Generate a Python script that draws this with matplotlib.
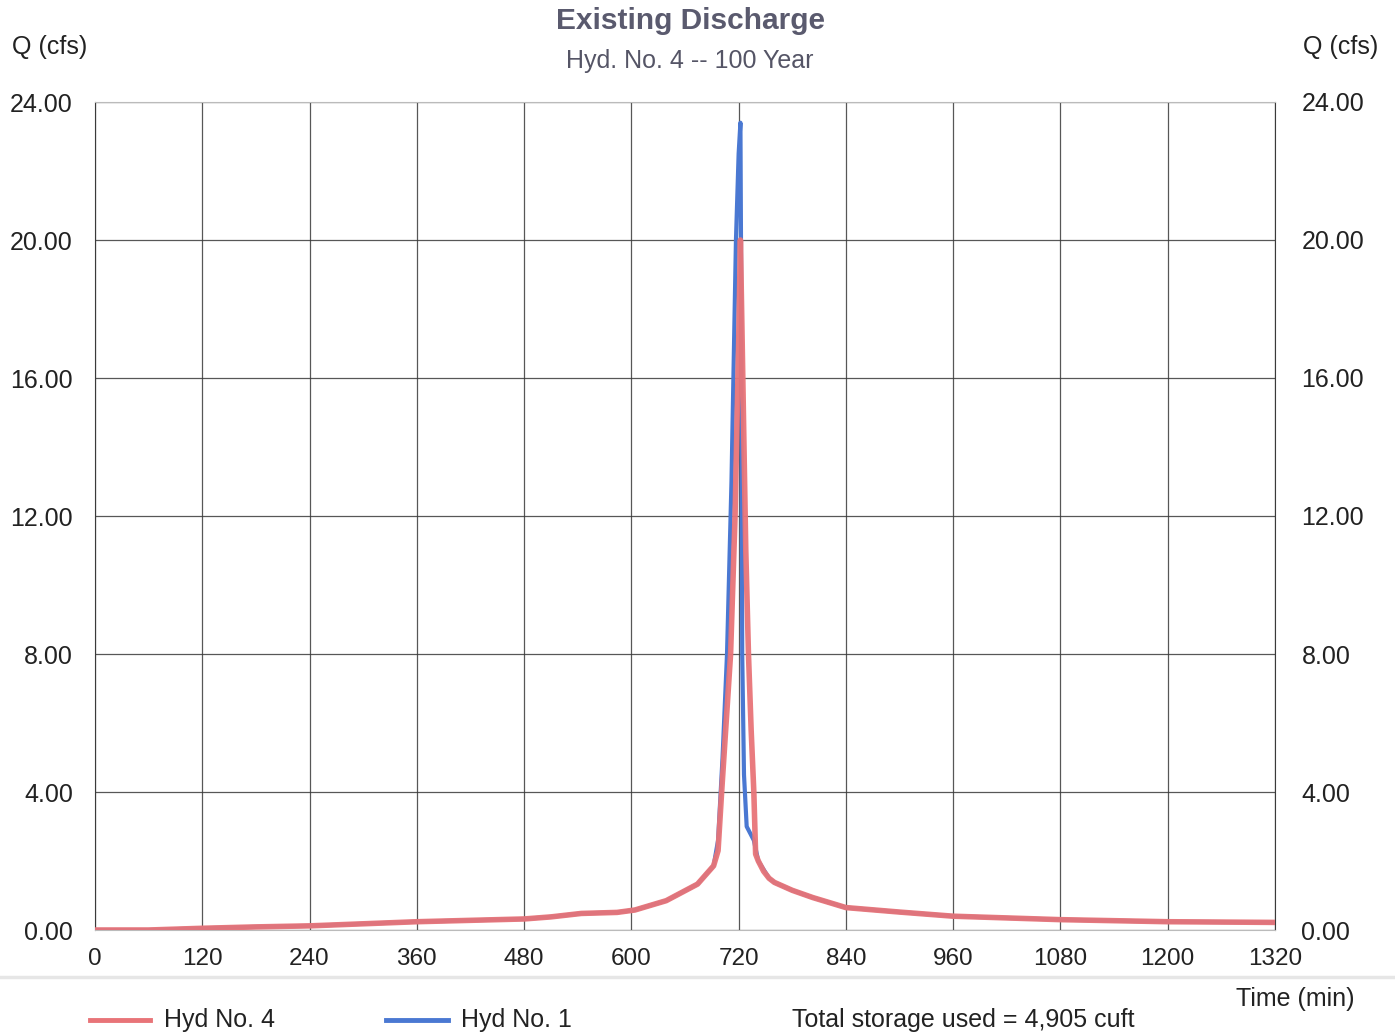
import matplotlib
matplotlib.use("Agg")
import matplotlib.pyplot as plt
from matplotlib.lines import Line2D

plt.rcParams['font.family'] = ['Liberation Sans', 'DejaVu Sans']

# Hyd No. 4 (red)
t4 = [0, 60, 120, 180, 240, 300, 360, 420, 480, 510, 544, 584, 604, 639, 674, 692, 697,
      701, 706, 711, 716, 720, 722, 725, 728, 731, 734, 737, 739, 742, 748, 754, 760,
      780, 803, 840, 900, 960, 1020, 1080, 1140, 1200, 1260, 1320]
q4 = [0.00, 0.00, 0.05, 0.09, 0.12, 0.18, 0.24, 0.28, 0.32, 0.38, 0.48, 0.51, 0.58, 0.85, 1.33, 1.86, 2.3,
      4.0, 6.0, 8.0, 12.0, 17.0, 20.0, 15.5, 11.0, 8.0, 5.8, 4.0, 2.2, 2.0, 1.7, 1.5, 1.38,
      1.15, 0.94, 0.65, 0.52, 0.40, 0.35, 0.30, 0.27, 0.24, 0.23, 0.22]

# Hyd No. 1 (blue)
t1 = [0, 60, 120, 180, 240, 300, 360, 420, 480, 510, 544, 584, 604, 639, 674, 692, 697,
      702, 707, 712, 717, 720, 722, 723, 724, 726, 729, 733, 737, 742, 754, 760,
      780, 803, 840, 900, 960, 1020, 1080, 1140, 1200, 1260, 1320]
q1 = [0.00, 0.00, 0.05, 0.09, 0.12, 0.18, 0.24, 0.28, 0.32, 0.38, 0.48, 0.51, 0.58, 0.85, 1.33, 1.86, 2.6,
      5.0, 8.0, 13.0, 20.0, 22.5, 23.4, 18.0, 8.0, 4.5, 3.0, 2.8, 2.6, 2.0, 1.5, 1.38,
      1.15, 0.94, 0.65, 0.52, 0.40, 0.35, 0.30, 0.27, 0.24, 0.23, 0.22]

x_ticks = [0, 120, 240, 360, 480, 600, 720, 840, 960, 1080, 1200, 1320]
y_ticks = [0, 4, 8, 12, 16, 20, 24]

W, H = 1395, 1036
fig = plt.figure(figsize=(W / 100, H / 100), dpi=100)
ax = fig.add_axes([95 / W, 1 - 930 / H, (1275 - 95) / W, (930 - 102) / H])

red = '#e87478'
blue = '#4a78d2'
grid_c = '#3a3a3a'
txt = '#222222'

ax.plot(t1, q1, color=blue, lw=3.0, zorder=3, solid_joinstyle='round')
ax.plot(t4, q4, color=red, lw=4.0, zorder=4, solid_joinstyle='round', alpha=0.95)

ax.set_xlim(0, 1320)
ax.set_ylim(0, 24)
ax.set_xticks(x_ticks)
ax.set_yticks(y_ticks)
ax.set_xticklabels([str(v) for v in x_ticks])
ax.set_yticklabels([f"{v:.2f}" for v in y_ticks])
ax.grid(True, color=grid_c, lw=0.9, alpha=0.85)
ax.set_axisbelow(True)
for s in ax.spines.values():
    s.set_color('#bbbbbb')
    s.set_linewidth(0.8)
ax.spines['left'].set_color(grid_c)
ax.spines['right'].set_color(grid_c)
ax.tick_params(axis='both', length=0, colors=txt)
ax.tick_params(axis='y', pad=16, labelsize=18)
ax.tick_params(axis='x', pad=13, labelsize=17.5)

ax2 = ax.twinx()
ax2.set_ylim(0, 24)
ax2.set_yticks(y_ticks)
ax2.set_yticklabels([f"{v:.2f}" for v in y_ticks])
ax2.tick_params(axis='y', length=0, pad=19, labelsize=18, colors=txt)
for s in ax2.spines.values():
    s.set_visible(False)

fig.text(690 / W, 1 - 21 / H, "Existing Discharge", ha='center', va='center',
         fontsize=21.5, fontweight='bold', color='#5a5a6e')
fig.text(690 / W, 1 - 61 / H, "Hyd. No. 4 -- 100 Year", ha='center', va='center',
         fontsize=18, color='#555566')
fig.text(50 / W, 1 - 47 / H, "Q (cfs)", ha='center', va='center', fontsize=18, color=txt)
fig.text(1341 / W, 1 - 47 / H, "Q (cfs)", ha='center', va='center', fontsize=18, color=txt)
fig.text(1295 / W, 1 - 999 / H, "Time (min)", ha='center', va='center', fontsize=18, color=txt)

# separator line
fig.add_artist(Line2D([0, 1], [1 - 977 / H, 1 - 977 / H], color='#e6e6e6', lw=2.5,
                      transform=fig.transFigure))

# legend
ly = 1 - 1020 / H
fig.add_artist(Line2D([90 / W, 150 / W], [ly, ly], color=red, lw=3.5, transform=fig.transFigure))
fig.text(164 / W, ly, "Hyd No. 4", ha='left', va='center', fontsize=18, color=txt)
fig.add_artist(Line2D([386 / W, 448 / W], [ly, ly], color=blue, lw=3.5, transform=fig.transFigure))
fig.text(461 / W, ly, "Hyd No. 1", ha='left', va='center', fontsize=18, color=txt)
fig.text(792 / W, ly, "Total storage used = 4,905 cuft", ha='left', va='center',
         fontsize=18, color=txt)

fig.savefig("out.png", dpi=100)
